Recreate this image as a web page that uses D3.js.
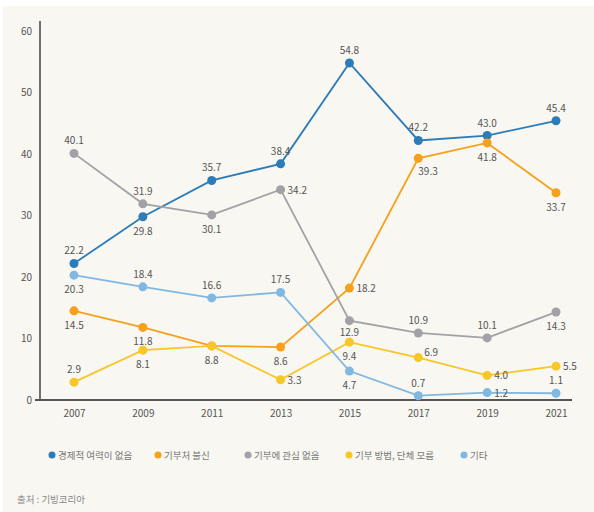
<!DOCTYPE html>
<html>
<head>
<meta charset="utf-8">
<script src="https://cdn.jsdelivr.net/npm/d3@7"></script>
<style>
  body { margin: 0; background: #fff; }
  svg { display: block; font-family: "Noto Sans CJK KR", "Noto Sans", sans-serif; }
</style>
</head>
<body>
<svg id="chart"></svg>
<script>
// data
const years = ["2007", "2009", "2011", "2013", "2015", "2017", "2019", "2021"];
const seriesNames = ["경제적 여력이 없음", "기부처 불신", "기부에 관심 없음", "기부 방법, 단체 모름", "기타"];
const noMoney = [22.2, 29.8, 35.7, 38.4, 54.8, 42.2, 43.0, 45.4];
const distrust = [14.5, 11.8, 8.8, 8.6, 18.2, 39.3, 41.8, 33.7];
const noInterest = [40.1, 31.9, 30.1, 34.2, 12.9, 10.9, 10.1, 14.3];
const dontKnow = [2.9, 8.1, 8.8, 3.3, 9.4, 6.9, 4.0, 5.5];
const other = [20.3, 18.4, 16.6, 17.5, 4.7, 0.7, 1.2, 1.1];
const yTicks = [0, 10, 20, 30, 40, 50, 60];
const source = "출처 : 기빙코리아";

const colors = ["#2b7cb9", "#f6a01c", "#a2a2a6", "#f7c627", "#80b8e2"];
// where each value label sits relative to its point (t = top, b = bottom, r = right, n = none)
const labelPlace = [
  ["t", "b", "t", "t", "t", "t", "t", "t"],
  ["b", "b", "b", "b", "r", "br", "b", "b"],
  ["t", "t", "b", "r", "bs", "t", "t", "b"],
  ["t", "b", "n", "r", "b", "tr", "r", "r"],
  ["b", "t", "t", "t", "b", "t", "r", "t"]
];

const W = 594, H = 512;
const svg = d3.select("#chart").attr("width", W).attr("height", H);

svg.append("rect").attr("x", 3).attr("y", 6).attr("width", W - 3).attr("height", H - 6)
  .attr("fill", "#f8f7f1");

const x = d3.scalePoint().domain(years).range([74, 556]);
const y = d3.scaleLinear().domain([0, 60]).range([400, 31]);

// y axis
const yAxis = svg.append("g").attr("transform", "translate(40,0)")
  .call(d3.axisLeft(y).tickValues(yTicks).tickSize(0).tickPadding(8));
yAxis.select(".domain").remove();
yAxis.selectAll("text").attr("fill", "#555").attr("font-size", 10).attr("font-family", "Noto Sans CJK KR");
svg.append("line").attr("x1", 40).attr("x2", 40).attr("y1", 21).attr("y2", y(0))
  .attr("stroke", "#444").attr("stroke-width", 1.5);

// x axis
const xAxis = svg.append("g").attr("transform", "translate(0," + y(0) + ")")
  .call(d3.axisBottom(x).tickSize(0).tickPadding(10));
xAxis.select(".domain").remove();
xAxis.selectAll("text").attr("fill", "#555").attr("font-size", 10).attr("font-family", "Noto Sans CJK KR");
svg.append("line").attr("x1", 35).attr("x2", 572).attr("y1", y(0)).attr("y2", y(0))
  .attr("stroke", "#555").attr("stroke-width", 2);

const allSeries = [noMoney, distrust, noInterest, dontKnow, other];
const line = d3.line().x((d, i) => x(years[i])).y((d) => y(d));

allSeries.forEach((vals, s) => {
  const g = svg.append("g");
  g.append("path").datum(vals).attr("d", line)
    .attr("fill", "none").attr("stroke", colors[s]).attr("stroke-width", 1.8);
  g.selectAll("circle").data(vals).enter().append("circle")
    .attr("cx", (d, i) => x(years[i])).attr("cy", (d) => y(d))
    .attr("r", 4.5).attr("fill", colors[s]);
});

// value labels
allSeries.forEach((vals, s) => {
  vals.forEach((v, i) => {
    const p = labelPlace[s][i];
    if (p === "n") return;
    let dx = 0, dy = 0, anchor = "middle";
    if (p === "t") dy = -9;
    if (p === "b") dy = 18;
    if (p === "bs") dy = 15;
    if (p === "r") { dx = 7; dy = 4; anchor = "start"; }
    if (p === "br") { dx = 0; dy = 17; anchor = "start"; }
    if (p === "tr") { dx = 6; dy = -2; anchor = "start"; }
    svg.append("text")
      .attr("x", x(years[i]) + dx).attr("y", y(v) + dy)
      .attr("text-anchor", anchor).attr("font-size", 10).attr("fill", "#555")
      .text(v.toFixed(1));
  });
});

// legend
const legendX = [52, 158, 248, 349, 464];
seriesNames.forEach((name, s) => {
  const g = svg.append("g").attr("transform", "translate(" + legendX[s] + ",455)");
  g.append("circle").attr("r", 3.5).attr("fill", colors[s]);
  g.append("text").attr("x", 6).attr("y", 3.5).attr("font-size", 9.5).attr("fill", "#777")
    .text(name);
});

svg.append("text").attr("x", 17).attr("y", 503).attr("font-size", 9.5).attr("fill", "#888")
  .text(source);
</script>
</body>
</html>
